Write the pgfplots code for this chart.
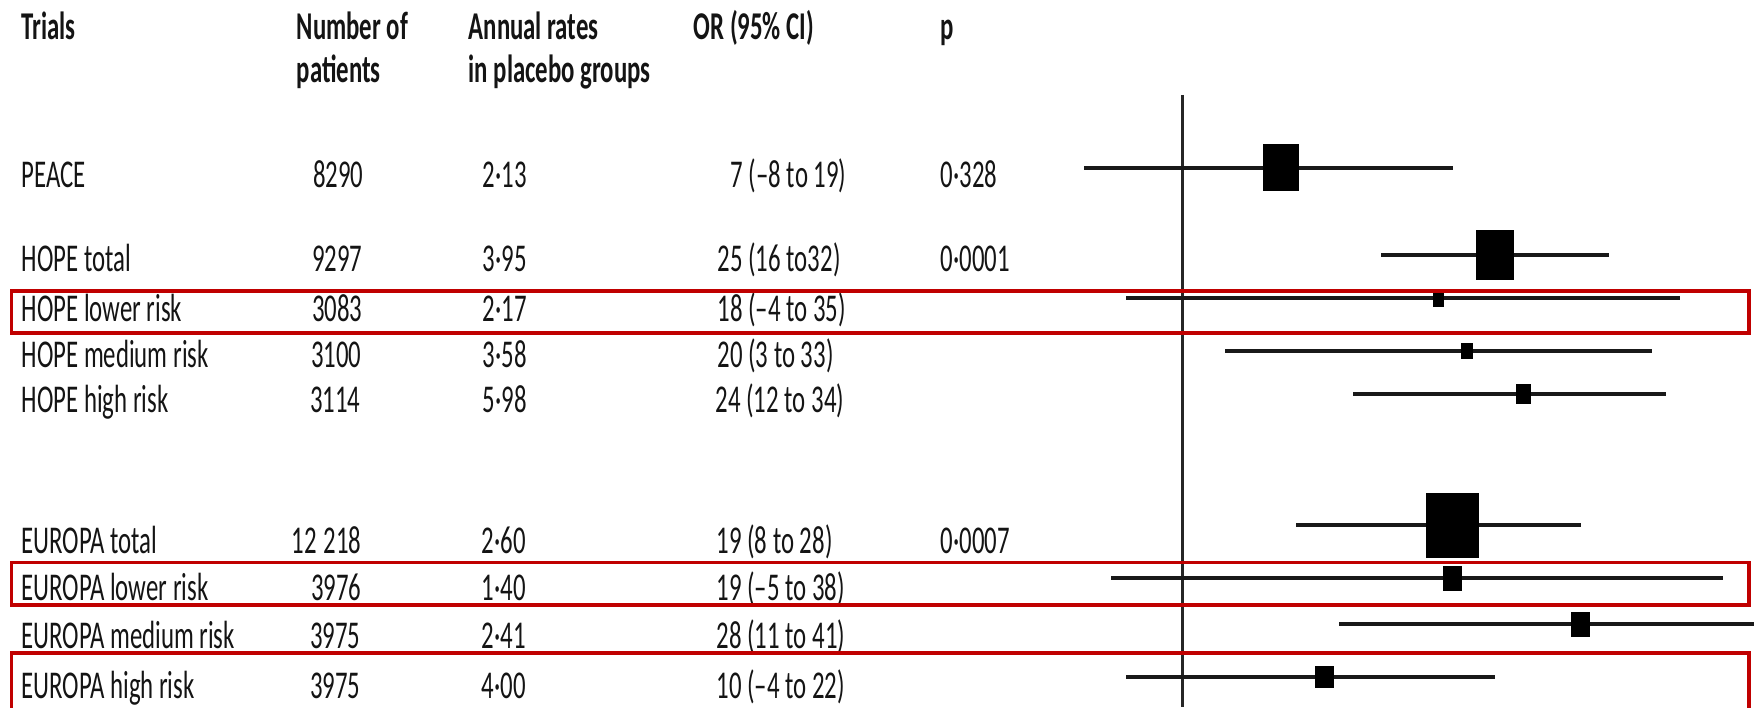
\documentclass[border=0pt]{standalone}
\usepackage{pgfplots}
\pgfplotsset{compat=1.18}
\usepackage{pgfplotstable}
\usepackage{fontspec}
\setmainfont{Carlito}[FakeStretch=0.63]
\definecolor{boxred}{HTML}{C00000}

% box mark: width \bw and height \bh given in picture pixels (0.1 mm)
\pgfdeclareplotmark{rbox}{%
  \pgfpathrectangle{\pgfpoint{-0.05mm*\bw}{-0.05mm*\bh}}{\pgfpoint{0.1mm*\bw}{0.1mm*\bh}}%
  \pgfusepathqfill}

% y = row position (top-down), lo / est / hi = OR and 95% CI, w / h = box size
\pgfplotstableread{
y     lo    est   hi    w     h
167.7 -6.9  6.9   19.0  36    47
254.7 14.0  22.0  30.0  38    50
298.3 -4    18    35    11.7  18
351.3 3     20    33    11.7  16
394.0 12    24    34    14.4  20
525.3 8     19    28    52.5  65
578.0 -5    19    38    19    25
624.3 11    28    41    19    25
677.0 -4    10    22    19    22
}\ortable

\begin{document}
\begin{tikzpicture}
\begin{axis}[
  scale only axis, width=175.4mm, height=70.7mm,
  xmin=-83.15, xmax=40.2, ymin=0, ymax=707, y dir=reverse,
  hide axis, clip=true]
  \addplot[black!85, line width=0.65pt, forget plot] coordinates {(0,95) (0,707)};
  \addplot[draw=none, mark=none, forget plot, line width=1.05pt,
    error bars/.cd, x dir=both, x explicit, error mark=none,
    error bar style={draw=black!90, line width=1.05pt}]
    table[x=est, y=y, x error plus expr=\thisrow{hi}-\thisrow{est},
          x error minus expr=\thisrow{est}-\thisrow{lo}] {\ortable};
  \addplot[scatter, only marks, mark=rbox, forget plot,
    scatter/use mapped color={draw=black, fill=black},
    visualization depends on={\thisrow{w}\as\bw},
    visualization depends on={\thisrow{h}\as\bh}]
    table[x=est, y=y] {\ortable};
  \coordinate (TL) at (rel axis cs:0,1);
  \coordinate (BL) at (rel axis cs:0,0);
  \coordinate (TR) at (rel axis cs:1,1);
  \coordinate (BR) at (rel axis cs:1,0);
\end{axis}
\begin{scope}[shift={(TL)}, x=0.1mm, y=-0.1mm,
  every node/.style={inner sep=0pt, text=black!92, font=\fontsize{11.2}{13.4}\selectfont}]
  % headers
  \node[anchor=base west] at (21,40) {\bfseries Trials};
  \node[anchor=base west] at (296,40) {\bfseries Number of};
  \node[anchor=base west] at (296,83) {\bfseries patients};
  \node[anchor=base west] at (468,40) {\bfseries Annual rates};
  \node[anchor=base west] at (468,83) {\bfseries in placebo groups};
  \node[anchor=base west] at (693,40) {\bfseries OR (95\% CI)};
  \node[anchor=base west] at (940,40) {\bfseries p};
  % trial names
  \node[anchor=base west] at (21,188) {PEACE};
  \node[anchor=base west] at (21,272) {HOPE total};
  \node[anchor=base west] at (21,322) {HOPE lower risk};
  \node[anchor=base west] at (21,368) {HOPE medium risk};
  \node[anchor=base west] at (21,413) {HOPE high risk};
  \node[anchor=base west] at (21,553) {EUROPA total};
  \node[anchor=base west] at (21,600) {EUROPA lower risk};
  \node[anchor=base west] at (21,648) {EUROPA medium risk};
  \node[anchor=base west] at (21,698) {EUROPA high risk};
  % number of patients
  \node[anchor=base east] at (364,188) {8290};
  \node[anchor=base east] at (363,272) {9297};
  \node[anchor=base east] at (363,322) {3083};
  \node[anchor=base east] at (362,368) {3100};
  \node[anchor=base east] at (361,413) {3114};
  \node[anchor=base east] at (362,553) {12\,218};
  \node[anchor=base east] at (362,600) {3976};
  \node[anchor=base east] at (361,648) {3975};
  \node[anchor=base east] at (361,698) {3975};
  % annual rates
  \node[anchor=base west] at (482,188) {2·13};
  \node[anchor=base west] at (482,272) {3·95};
  \node[anchor=base west] at (482,322) {2·17};
  \node[anchor=base west] at (482,368) {3·58};
  \node[anchor=base west] at (482,413) {5·98};
  \node[anchor=base west] at (481,553) {2·60};
  \node[anchor=base west] at (481,600) {1·40};
  \node[anchor=base west] at (481,648) {2·41};
  \node[anchor=base west] at (481,698) {4·00};
  % OR (95% CI)
  \node[anchor=base west] at (730,188) {7 (–8 to 19)};
  \node[anchor=base west] at (717,272) {25 (16 to32)};
  \node[anchor=base west] at (717,322) {18 (–4 to 35)};
  \node[anchor=base west] at (717,368) {20 (3 to 33)};
  \node[anchor=base west] at (715,413) {24 (12 to 34)};
  \node[anchor=base west] at (716,553) {19 (8 to 28)};
  \node[anchor=base west] at (716,600) {19 (–5 to 38)};
  \node[anchor=base west] at (716,648) {28 (11 to 41)};
  \node[anchor=base west] at (716,698) {10 (–4 to 22)};
  % p
  \node[anchor=base west] at (940,188) {0·328};
  \node[anchor=base west] at (940,272) {0·0001};
  \node[anchor=base west] at (940,553) {0·0007};
  % highlight boxes
  \draw[boxred, line width=0.95pt] (11.5,291) rectangle (1749,333);
  \draw[boxred, line width=0.95pt] (11.5,562.5) rectangle (1749,605);
  \draw[boxred, line width=0.95pt] (11.5,730) -- (11.5,653) -- (1749,653) -- (1749,730);
\end{scope}
\pgfresetboundingbox
\path[use as bounding box] (BL) rectangle (TR);
\end{tikzpicture}
\end{document}
